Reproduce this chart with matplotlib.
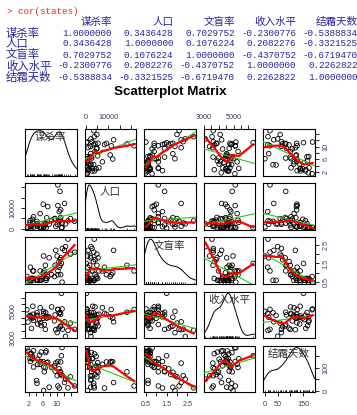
import numpy as np
import matplotlib
matplotlib.use('Agg')
import matplotlib.pyplot as plt

plt.rcParams['font.family'] = ['Liberation Sans', 'Noto Sans CJK SC', 'DejaVu Sans']

# states data (state.x77 columns used in the R session)
names = ['谋杀率', '人口', '文盲率', '收入水平', '结霜天数']
murder = [15.1, 11.3, 7.8, 10.1, 10.3, 6.8, 3.1, 6.2, 10.7, 13.9, 6.2, 5.3, 10.3, 7.1, 2.3,
          4.5, 10.6, 13.2, 2.7, 8.5, 3.3, 11.1, 2.3, 12.5, 9.3, 5.0, 2.9, 11.5, 3.3, 5.2,
          9.7, 10.9, 11.1, 1.4, 7.4, 6.4, 4.2, 6.1, 2.4, 11.6, 1.7, 11.0, 12.2, 4.5, 5.5,
          9.5, 4.3, 6.7, 3.0, 6.9]
population = [3615, 365, 2212, 2110, 21198, 2541, 3100, 579, 8277, 4931, 868, 813, 11197,
              5313, 2861, 2280, 3387, 3806, 1058, 4122, 5814, 9111, 3921, 2341, 4767, 746,
              1544, 590, 812, 7333, 1144, 18076, 5441, 637, 10735, 2715, 2284, 11860, 931,
              2816, 681, 4173, 12237, 1203, 472, 4981, 3559, 1799, 4589, 376]
illiteracy = [2.1, 1.5, 1.8, 1.9, 1.1, 0.7, 1.1, 0.9, 1.3, 2.0, 1.9, 0.6, 0.9, 0.7, 0.5,
              0.6, 1.6, 2.8, 0.7, 0.9, 1.1, 0.9, 0.6, 2.4, 0.8, 0.6, 0.6, 0.5, 0.7, 1.1,
              2.2, 1.4, 1.8, 0.8, 0.8, 1.1, 0.6, 1.0, 1.3, 2.3, 0.5, 1.7, 2.2, 0.6, 0.6,
              1.4, 0.6, 1.4, 0.7, 0.6]
income = [3624, 6315, 4530, 3378, 5114, 4884, 5348, 4809, 4815, 4091, 4963, 4119, 5107,
          4458, 4628, 4669, 3712, 3545, 3694, 5299, 4755, 4751, 4675, 3098, 4254, 4347,
          4508, 5149, 4281, 5237, 3601, 4903, 3875, 5087, 4561, 3983, 4660, 4449, 4558,
          3635, 4167, 3821, 4188, 4022, 3907, 4701, 4864, 3617, 4468, 4566]
frost = [20, 152, 15, 65, 20, 166, 139, 103, 11, 60, 0, 126, 127, 122, 140, 114, 95, 12,
         161, 101, 103, 125, 160, 50, 108, 155, 139, 188, 174, 115, 120, 82, 80, 186, 124,
         82, 44, 126, 127, 65, 172, 70, 35, 137, 168, 85, 32, 100, 149, 173]

# axis ticks and which of them get a label
ticks = [[2, 4, 6, 8, 10, 12, 14],
         [0, 5000, 10000, 15000, 20000],
         [0.5, 1.0, 1.5, 2.0, 2.5],
         [3000, 3500, 4000, 4500, 5000, 5500, 6000],
         [0, 50, 100, 150]]
xlabs = [['2', '6', '10'], ['0', '10000'], ['0.5', '1.5', '2.5'], ['3000', '5000'],
         ['0', '50', '150']]
ylabs = [['2', '6', '10'], ['0', '10000'], ['0.5', '1.5', '2.5'], ['3000', '5000'],
         ['0', '100']]

data = [np.array(v, dtype=float) for v in [murder, population, illiteracy, income, frost]]

W, H = 357, 415
fig = plt.figure(figsize=(W / 100, H / 100), dpi=100)


def px(x, y):
    return x / W, 1 - y / H


# console output
blue = '#2424a8'
fig.text(*px(7, 11), '> cor(states)', color='#e0301e', fontsize=6.7,
         family=['Liberation Mono', 'Noto Sans CJK SC'], va='center')
cm = np.corrcoef(np.vstack(data))
col_x = [112 + 61.4 * k for k in range(5)]
for k, nm in enumerate(names):
    fig.text(*px(col_x[k], 22), nm, color=blue, fontsize=7.6, ha='right', va='center',
             family=['Noto Sans CJK SC'])
for r in range(5):
    yy = 33 + 11 * r
    fig.text(*px(6, yy), names[r], color=blue, fontsize=8.2, va='center',
             family=['Noto Sans CJK SC'])
    for k in range(5):
        fig.text(*px(col_x[k], yy), '%.7f' % cm[r, k], color=blue, fontsize=6.7,
                 ha='right', va='center', family=['Liberation Mono'])

fig.text(*px(170, 92.5), 'Scatterplot Matrix', fontsize=9.6, fontweight='bold',
         ha='center', va='center')


def lowess(x, y, f=0.5, it=3):
    o = np.argsort(x, kind='mergesort')
    xs, ys = x[o], y[o]
    n = len(xs)
    ns = max(min(int(f * n + 1e-7), n), 2)
    rw = np.ones(n)
    fit = np.zeros(n)
    for k in range(it + 1):
        for i in range(n):
            d = np.abs(xs - xs[i])
            h = np.sort(d)[ns - 1]
            if h > 0:
                u = d / h
                w = np.where(u < 0.999, (1 - u ** 3) ** 3, 0.0)
            else:
                w = (d == 0).astype(float)
            w = w * rw
            sw = w.sum()
            if sw <= 0:
                fit[i] = ys[i]
                continue
            xm = (w * xs).sum() / sw
            ym = (w * ys).sum() / sw
            sxx = (w * (xs - xm) ** 2).sum()
            if sxx > 1e-12:
                b = (w * (xs - xm) * (ys - ym)).sum() / sxx
                fit[i] = ym + b * (xs[i] - xm)
            else:
                fit[i] = ym
        if k == it:
            break
        res = ys - fit
        s = np.median(np.abs(res))
        if s == 0:
            break
        u = res / (6 * s)
        rw = np.where(np.abs(u) < 1, (1 - u ** 2) ** 2, 0.0)
    return xs, fit


def kde(v, grid):
    q75, q25 = np.quantile(v, [0.75, 0.25])
    bw = 0.9 * min(v.std(ddof=1), (q75 - q25) / 1.34) * len(v) ** -0.2
    z = (grid[:, None] - v[None, :]) / bw
    return np.exp(-0.5 * z ** 2).sum(axis=1) / (len(v) * bw * np.sqrt(2 * np.pi))


lims = []
for v in data:
    rg = v.max() - v.min()
    lims.append((v.min() - 0.04 * rg, v.max() + 0.04 * rg))

pw, ph = 51.5, 46.5
lab_col = '#3c3c68'
for i in range(5):
    for j in range(5):
        left, top = 25 + j * 59.5, 129 + i * 54.2
        ax = fig.add_axes([left / W, 1 - (top + ph) / H, pw / W, ph / H])
        xv, yv = data[j], data[i]
        ax.set_xlim(lims[j])
        ax.set_ylim(lims[i])
        if i == j:
            g = np.linspace(lims[j][0], lims[j][1], 300)
            dd = kde(xv, g)
            m = dd.max()
            lo, hi = lims[i]
            ax.plot(g, lo + (hi - lo) * (dd + 0.04 * m) / (1.08 * m), color='black', lw=0.7)
            ax.vlines(xv, 0, 0.04, transform=ax.get_xaxis_transform(), color='black', lw=0.5)
            ax.text(0.5, 0.82, names[i], transform=ax.transAxes, ha='center', va='center',
                    fontsize=7.6, color='#303030', family=['Noto Sans CJK SC'])
        else:
            ax.scatter(xv, yv, s=11, facecolors='none', edgecolors='black', linewidths=0.6,
                       zorder=2)
            b, a = np.polyfit(xv, yv, 1)
            xx = np.array(lims[j])
            ax.plot(xx, a + b * xx, color='#22cc22', lw=0.8, zorder=3)
            sx, sy = lowess(xv, yv)
            ax.plot(sx, sy, color='#ff0000', lw=1.6, zorder=4)
        ax.set_xticks([])
        ax.set_yticks([])
        for sp in ax.spines.values():
            sp.set_linewidth(0.8)
        if (i == 0 and j % 2 == 1) or (i == 4 and j % 2 == 0):
            ax.set_xticks(ticks[j])
            ax.set_xticklabels([s if s in xlabs[j] else '' for s in
                                [('%g' % t) for t in ticks[j]]])
            ax.xaxis.set_ticks_position('top' if i == 0 else 'bottom')
        if (j == 0 and i % 2 == 1) or (j == 4 and i % 2 == 0):
            ax.set_yticks(ticks[i])
            ax.set_yticklabels([s if s in ylabs[i] else '' for s in
                                [('%g' % t) for t in ticks[i]]])
            ax.yaxis.set_ticks_position('left' if j == 0 else 'right')
            for t in ax.get_yticklabels():
                t.set_rotation(90)
                t.set_va('center')
        ax.tick_params(direction='out', length=3, width=0.6, labelsize=5.2, pad=3,
                       labelcolor=lab_col)

fig.savefig('out.png', dpi=100)
